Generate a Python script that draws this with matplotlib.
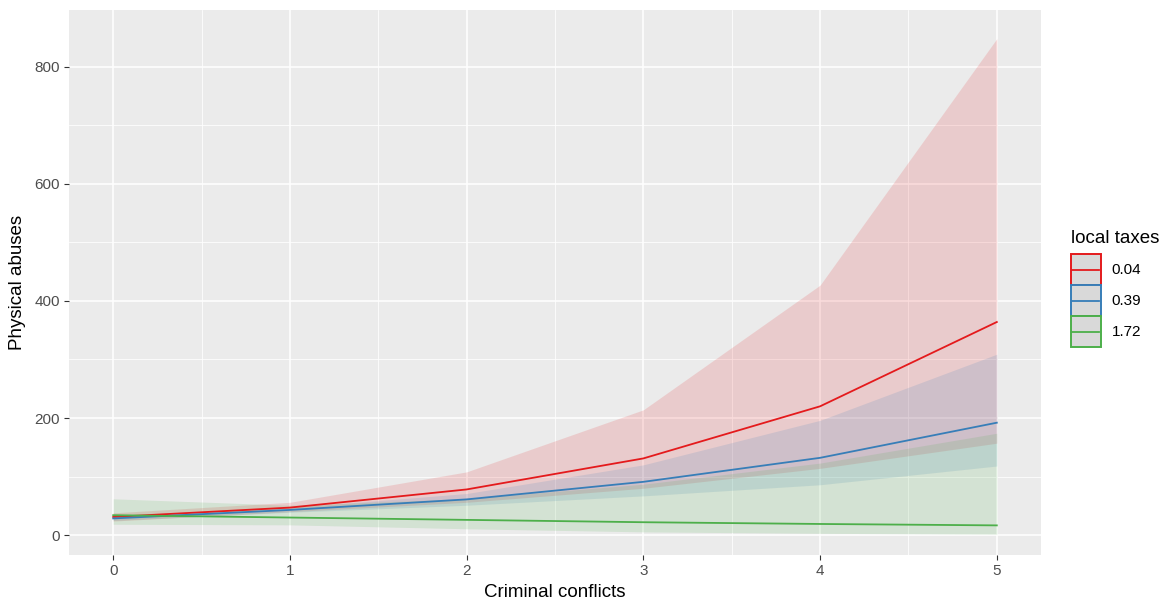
import matplotlib
matplotlib.use("Agg")
import matplotlib.pyplot as plt
from matplotlib.patches import Rectangle
from matplotlib.lines import Line2D

plt.rcParams["font.family"] = ["Liberation Sans", "DejaVu Sans"]

# predicted counts of physical abuses by number of criminal conflicts,
# at three levels of local taxes (fit with lower / upper confidence bounds)
conflicts = [0, 1, 2, 3, 4, 5]
tax_levels = ["0.04", "0.39", "1.72"]

fit_004 = [31, 47, 78, 131, 220, 364]
lo_004 = [24, 40, 56, 80, 114, 157]
hi_004 = [38, 56, 108, 214, 427, 848]

fit_039 = [28.5, 43, 61, 91, 132, 192]
lo_039 = [25, 39, 51, 67, 86, 118]
hi_039 = [33, 47, 71, 120, 196, 309]

fit_172 = [34, 30, 26, 22, 19, 16.6]
lo_172 = [18.5, 17.5, 10.8, 5.5, 3, 1.6]
hi_172 = [62, 51, 62, 87, 123, 174]

COLORS = ["#E41A1C", "#377EB8", "#4DAF4A"]
BG = "#EBEBEB"


class KeyHandler:
    """ggplot-style legend key: grey box, coloured border, line through the middle."""

    def legend_artist(self, legend, orig_handle, fontsize, handlebox):
        x0, y0 = -handlebox.xdescent, -handlebox.ydescent
        w, h = handlebox.width, handlebox.height
        col = orig_handle.get_color()
        tr = handlebox.get_transform()
        box = Rectangle((x0, y0), w, h, facecolor="#D9D9D9", edgecolor=col,
                        linewidth=1.4, transform=tr)
        line = Line2D([x0 + 1, x0 + w - 1], [y0 + h / 2] * 2, color=col,
                      linewidth=1.3, transform=tr)
        handlebox.add_artist(box)
        handlebox.add_artist(line)
        return box


W, H = 1165, 607
fig = plt.figure(figsize=(W / 100, H / 100), dpi=100)
ax = fig.add_axes([69 / W, 1 - 555 / H, (1041 - 69) / W, (555 - 10) / H])
ax.set_facecolor(BG)

series = [(fit_004, lo_004, hi_004), (fit_039, lo_039, hi_039),
          (fit_172, lo_172, hi_172)]
for (fit, lo, hi), col in zip(series, COLORS):
    ax.fill_between(conflicts, lo, hi, color=col, alpha=0.15, linewidth=0, zorder=2)
for (fit, lo, hi), col in zip(series, COLORS):
    ax.plot(conflicts, fit, color=col, linewidth=1.3, zorder=3)

ax.set_xlim(-0.25, 5.25)
ax.set_ylim(-34, 897)
ax.set_xticks(conflicts)
ax.set_yticks([0, 200, 400, 600, 800])
ax.set_xticks([0.5, 1.5, 2.5, 3.5, 4.5], minor=True)
ax.set_yticks([100, 300, 500, 700], minor=True)
ax.grid(which="major", color="white", linewidth=1.1, zorder=1)
ax.grid(which="minor", color="white", linewidth=0.55, zorder=1)
ax.set_axisbelow(True)
for s in ax.spines.values():
    s.set_visible(False)
ax.tick_params(which="major", length=3.5, width=0.8, color="#333333",
               labelcolor="#4D4D4D", labelsize=11, pad=3)
ax.tick_params(which="minor", length=0)

ax.set_xlabel("Criminal conflicts", fontsize=13.5, labelpad=4)
ax.set_ylabel("Physical abuses", fontsize=13.5, labelpad=6)

fig.text(1071 / W, 1 - 243 / H, "local taxes", fontsize=13.5, va="baseline")
handles = [Line2D([], [], color=c) for c in COLORS]
fig.legend(handles, tax_levels, handler_map={Line2D: KeyHandler()},
           loc="upper left", bbox_to_anchor=(1071 / W, 1 - 254 / H),
           frameon=False, fontsize=11, borderpad=0, borderaxespad=0,
           handlelength=1.95, handleheight=2.75, labelspacing=0.0,
           handletextpad=0.7)

fig.savefig("out.png", dpi=100)
